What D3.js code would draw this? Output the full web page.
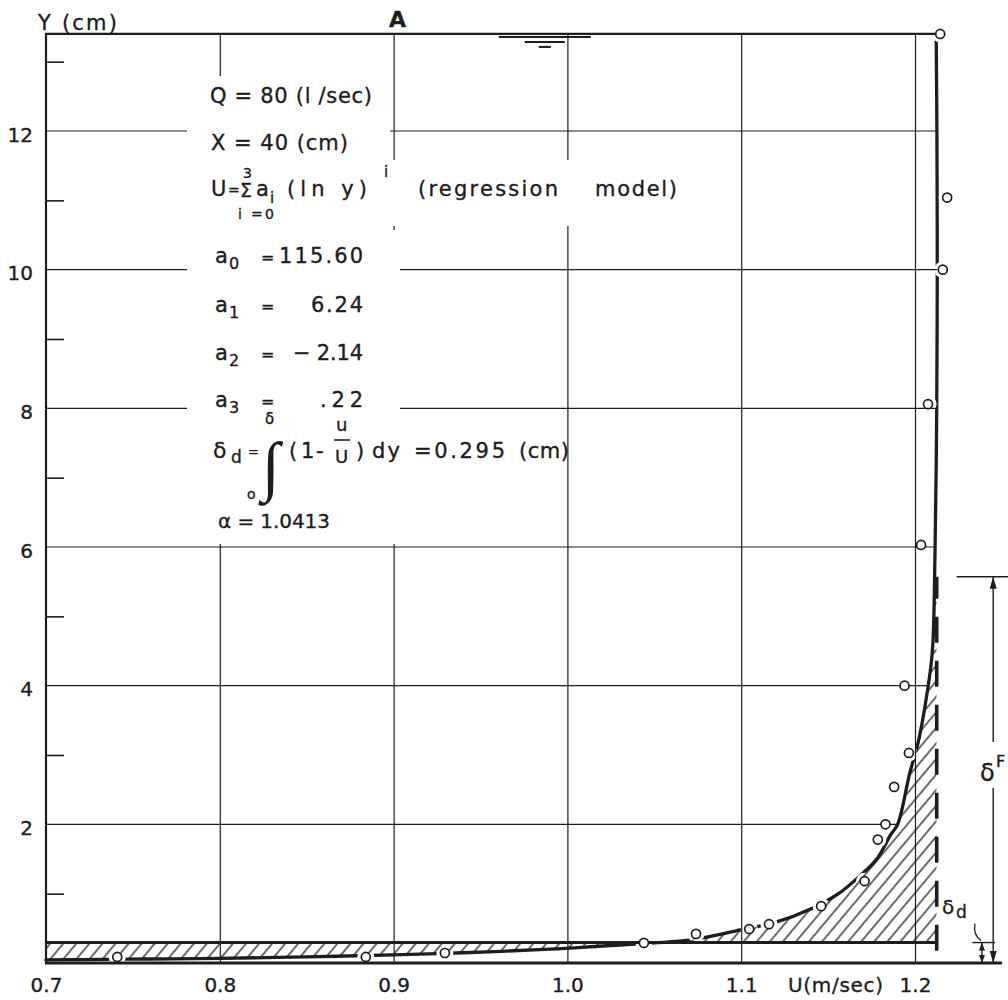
<!DOCTYPE html>
<html><head><meta charset="utf-8">
<script src="https://cdn.jsdelivr.net/npm/d3@7"></script>
<style>
body{margin:0;background:#fff}
svg{display:block}
text{font-family:"DejaVu Sans",sans-serif;fill:#1d1d1d;stroke:#1d1d1d;stroke-width:0.35px}
</style>
</head><body>
<svg id="c" width="1008" height="1000"></svg>
<script>
// ---------- data ----------
const xTicks=[0.7,0.8,0.9,1.0,1.1,1.2];
const xTickLabels=["0.7","0.8","0.9","1.0","1.1","1.2"];
const xGrid=[0.8,0.9,1.0,1.1,1.2];
const yTicks=[2,4,6,8,10,12];
const yTickLabels=["2","4","6","8","10","12"];
const yMinorTicks=[1,3,5,7,9,11,13];
// regression curve (U in m/s, y in cm)
const curveU=[0.700,0.720,0.760,0.800,0.850,0.900,0.940,0.990,1.020,1.050,1.070,1.085,1.100,1.120,1.140,1.156,1.168,1.178,1.186,1.190,1.197,1.202,1.207,1.210,1.2115,1.2125,1.2128,1.2126,1.2122];
const curveY=[0.045,0.050,0.058,0.068,0.088,0.118,0.148,0.200,0.245,0.290,0.330,0.400,0.480,0.590,0.780,1.000,1.250,1.500,1.850,2.000,2.740,3.200,3.900,4.500,5.900,8.000,10.00,12.00,13.35];
// measured points
const pointU=[0.741,0.884,0.9295,1.044,1.074,1.1046,1.116,1.146,1.171,1.1786,1.183,1.188,1.1965,1.194,1.2035,1.2075,1.216,1.2185,1.2145];
const pointY=[0.087,0.087,0.144,0.29,0.42,0.49,0.56,0.82,1.18,1.78,2.0,2.54,3.03,4.0,6.03,8.06,10.0,11.04,13.4];
const U_inf=1.2125, deltaD=0.295, deltaF=5.57, yTop=13.4, xEnd=1.25, waterU=0.987;
const coefSubs=["0","1","2","3"];
const coefVals=["115.60","6.24","− 2.14",".22"];

// ---------- setup ----------
const ink="#1d1d1d";
const svg=d3.select("#c");
const x=d3.scaleLinear().domain([0.7,1.2]).range([46,915]);
const y=d3.scaleLinear().domain([0,12]).range([963,131]);
const defs=svg.append("defs");
const pat=defs.append("pattern").attr("id","hatch").attr("patternUnits","userSpaceOnUse")
  .attr("width",10).attr("height",10).attr("patternTransform","rotate(40)");
pat.append("line").attr("x1",5).attr("y1",0).attr("x2",5).attr("y2",10).attr("stroke",ink).attr("stroke-width",1.3);
defs.append("clipPath").attr("id","clipB").append("rect")
  .attr("x",x(0.7)).attr("y",y(deltaF)).attr("width",x(U_inf)-x(0.7)).attr("height",y(deltaD)-y(deltaF));
defs.append("clipPath").attr("id","clipA").append("rect")
  .attr("x",x(0.7)).attr("y",y(deltaD)).attr("width",x(U_inf)-x(0.7)).attr("height",y(0)-y(deltaD));

const pts=curveU.map((u,i)=>[x(u),y(curveY[i])]);
const lineGen=d3.line().curve(d3.curveCatmullRom.alpha(0.5));
const curvePath=lineGen(pts);
function curveUAt(v){
  for(let i=0;i<curveY.length-1;i++){
    if(v>=curveY[i]&&v<=curveY[i+1]){const t=(v-curveY[i])/(curveY[i+1]-curveY[i]);return curveU[i]+t*(curveU[i+1]-curveU[i]);}
  }
  return curveU[curveU.length-1];
}

// 1. curve
svg.append("path").attr("d",curvePath).attr("fill","none").attr("stroke",ink).attr("stroke-width",3.3).attr("stroke-linecap","round");
// 2. gaps around the points
svg.append("g").selectAll("circle").data(pointU).join("circle")
  .attr("cx",d=>x(d)).attr("cy",(d,i)=>y(pointY[i])).attr("r",8.5).attr("fill","#fff");
// 3. hatched areas
const last=pts[pts.length-1];
svg.append("path").attr("d",curvePath+`L${x(U_inf)},${last[1]}L${x(U_inf)},${y(0)}L${x(0.7)},${y(0)}Z`)
  .attr("fill","url(#hatch)").attr("clip-path","url(#clipB)");
svg.append("path").attr("d",curvePath+`L${x(0.7)},${y(yTop)}Z`)
  .attr("fill","url(#hatch)").attr("clip-path","url(#clipA)");

// 4. grid
const vg=svg.append("g").attr("transform",`translate(0,${y(0)})`)
  .call(d3.axisBottom(x).tickValues(xGrid).tickSize(-(y(0)-y(yTop))).tickFormat(""));
vg.select(".domain").remove();
vg.selectAll("line").attr("stroke",ink).attr("stroke-width",1.2);
svg.append("g").selectAll("line").data(yTicks).join("line")
  .attr("x1",x(0.7)).attr("x2",d=>x(curveUAt(d))).attr("y1",d=>y(d)).attr("y2",d=>y(d))
  .attr("stroke",ink).attr("stroke-width",1.2);
const mt=svg.append("g").attr("transform",`translate(${x(0.7)},0)`)
  .call(d3.axisRight(y).tickValues(yMinorTicks).tickSize(18).tickFormat(""));
mt.select(".domain").remove();
mt.selectAll("line").attr("stroke",ink).attr("stroke-width",1.6);

// 5. white boxes behind the lettering
svg.append("rect").attr("x",187).attr("y",76).attr("width",203).attr("height",468).attr("fill","#fff");
svg.append("rect").attr("x",388).attr("y",160).attr("width",310).attr("height",66).attr("fill","#fff");
svg.append("rect").attr("x",388).attr("y",230).attr("width",12).attr("height",314).attr("fill","#fff");

// 6. frame lines
svg.append("line").attr("x1",x(0.7)).attr("x2",x(0.7)).attr("y1",y(yTop)).attr("y2",y(0)).attr("stroke",ink).attr("stroke-width",2.2);
svg.append("line").attr("x1",x(0.7)-1).attr("x2",x(xEnd)).attr("y1",y(0)).attr("y2",y(0)).attr("stroke",ink).attr("stroke-width",2.8);
svg.append("line").attr("x1",x(0.7)-1).attr("x2",x(pointU[pointU.length-1])).attr("y1",y(yTop)).attr("y2",y(yTop)).attr("stroke",ink).attr("stroke-width",2.2);
svg.append("line").attr("x1",x(0.7)).attr("x2",x(U_inf)).attr("y1",y(deltaD)).attr("y2",y(deltaD)).attr("stroke",ink).attr("stroke-width",3);
svg.append("line").attr("x1",x(U_inf)).attr("x2",x(U_inf)).attr("y1",y(deltaF)).attr("y2",y(0))
  .attr("stroke",ink).attr("stroke-width",3.6).attr("stroke-dasharray","26,18").attr("stroke-dashoffset",4);

// water surface symbol
const wx=x(waterU), wy=y(yTop);
[[46,3],[20,8],[6,13]].forEach(([h,dy])=>{
  svg.append("line").attr("x1",wx-h).attr("x2",wx+h).attr("y1",wy+dy).attr("y2",wy+dy).attr("stroke",ink).attr("stroke-width",2);
});

// 7. lettering
function t(s,px,py,size,o={}){
  const e=svg.append("text").attr("x",px).attr("y",py).attr("font-size",size).text(s);
  if(o.len)e.attr("textLength",o.len).attr("lengthAdjust","spacing");
  if(o.anchor)e.attr("text-anchor",o.anchor);
  if(o.weight)e.attr("font-weight",o.weight);
  if(o.family)e.style("font-family",o.family);
  if(o.tr)e.attr("transform",o.tr);
  if(o.nostroke)e.style("stroke","none");
  return e;
}
t("Y (cm)",38,30,21,{len:79});
t("A",389,27,22,{weight:"bold"});
t("Q = 80 (l /sec)",210,103,21,{len:162});
t("X = 40 (cm)",211,150,21,{len:137});
t("U",211,196,21);
t("=",228,195,14);
t("Σ",240,197,19);
t("3",243,178,14);
t("a",256,196,21);
t("i",270,203,15);
t("(ln y)",287,196,21,{len:80});
t("i",384,177,15);
t("(regression",418,196,21,{len:140});
t("model)",595,196,21,{len:82});
t("i =0",238,219,14,{len:36});
const rowBase=[263,312,360,407];
const coefLen=[84,52,70,43];
coefVals.forEach((v,i)=>{
  t("a",215,rowBase[i],21);
  t(coefSubs[i],229,rowBase[i]+6,16);
  t("=",261,rowBase[i],16);
  t(v,363,rowBase[i],21,{anchor:"end",len:coefLen[i]});
});
t("δ",213,458,22);
t("d",231,463,17);
t("=",248,456,13);
t("δ",265,424,15);
t("∫",262,488,66,{family:"Liberation Serif",nostroke:true});
t("o",247,499,14);
t("(",289,458,21);
t("1",301,458,21);
t("-",316,458,21);
t("u",336,431,18);
svg.append("line").attr("x1",334).attr("x2",350).attr("y1",440).attr("y2",440).attr("stroke",ink).attr("stroke-width",1.6);
t("U",335,463,18);
t(")",356,458,21);
t("dy",372,458,21,{len:28});
t("=0.295",414,458,21,{len:91});
t("(cm)",519,458,21,{len:50});
t("α = 1.0413",218,528,20,{len:112});

// 8. points
svg.append("g").selectAll("circle").data(pointU).join("circle")
  .attr("cx",d=>x(d)).attr("cy",(d,i)=>y(pointY[i])).attr("r",4.5)
  .attr("fill","#fff").attr("stroke",ink).attr("stroke-width",1.7);

// 9. axes labels
const xa=svg.append("g").attr("transform",`translate(0,${y(0)})`)
  .call(d3.axisBottom(x).tickValues(xTicks).tickFormat((d,i)=>xTickLabels[i]).tickSize(0).tickPadding(15));
xa.select(".domain").remove();
xa.selectAll("text").attr("font-size",20).attr("font-family","DejaVu Sans").attr("fill",ink);
const ya=svg.append("g").attr("transform",`translate(${x(0.7)},0)`)
  .call(d3.axisLeft(y).tickValues(yTicks).tickFormat((d,i)=>yTickLabels[i]).tickSize(0).tickPadding(13));
ya.select(".domain").remove();
ya.selectAll("text").attr("font-size",20).attr("font-family","DejaVu Sans").attr("fill",ink).attr("dy","0.5em");
t("U(m/sec)",788,992,20,{len:95});

// 10. dimension marks
const fx=x(1.245);
svg.append("line").attr("x1",x(1.224)).attr("x2",1010).attr("y1",y(deltaF)).attr("y2",y(deltaF)).attr("stroke",ink).attr("stroke-width",1.4);
svg.append("line").attr("x1",fx).attr("x2",fx).attr("y1",y(deltaF)).attr("y2",742).attr("stroke",ink).attr("stroke-width",1.4);
svg.append("line").attr("x1",fx).attr("x2",fx).attr("y1",788).attr("y2",y(0)).attr("stroke",ink).attr("stroke-width",1.4);
function arrow(ax,ay,dir){
  svg.append("path").attr("d",`M${ax},${ay}L${ax-3.5},${ay+dir*12}L${ax+3.5},${ay+dir*12}Z`).attr("fill",ink);
}
arrow(fx,y(deltaF),1);
arrow(fx,y(0),-1);
t("δ",980,781,24);
t("F",996,767,16);
const dx=x(1.2385);
svg.append("line").attr("x1",x(1.233)).attr("x2",x(1.246)).attr("y1",y(deltaD)).attr("y2",y(deltaD)).attr("stroke",ink).attr("stroke-width",1.4);
svg.append("line").attr("x1",dx).attr("x2",dx).attr("y1",y(deltaD)).attr("y2",y(0)).attr("stroke",ink).attr("stroke-width",1.4);
svg.append("path").attr("d",`M${dx},${y(deltaD)}L${dx-3},${y(deltaD)+8}L${dx+3},${y(deltaD)+8}Z`).attr("fill",ink);
svg.append("path").attr("d",`M${dx},${y(0)}L${dx-3},${y(0)-8}L${dx+3},${y(0)-8}Z`).attr("fill",ink);
svg.append("path").attr("d",`M${dx-7},${y(deltaD)-19}Q${dx-9},${y(deltaD)-8} ${dx-1},${y(deltaD)-2}`).attr("fill","none").attr("stroke",ink).attr("stroke-width",1.3);
t("δ",942,914,20);
t("d",956,918,17);
</script>
</body></html>
